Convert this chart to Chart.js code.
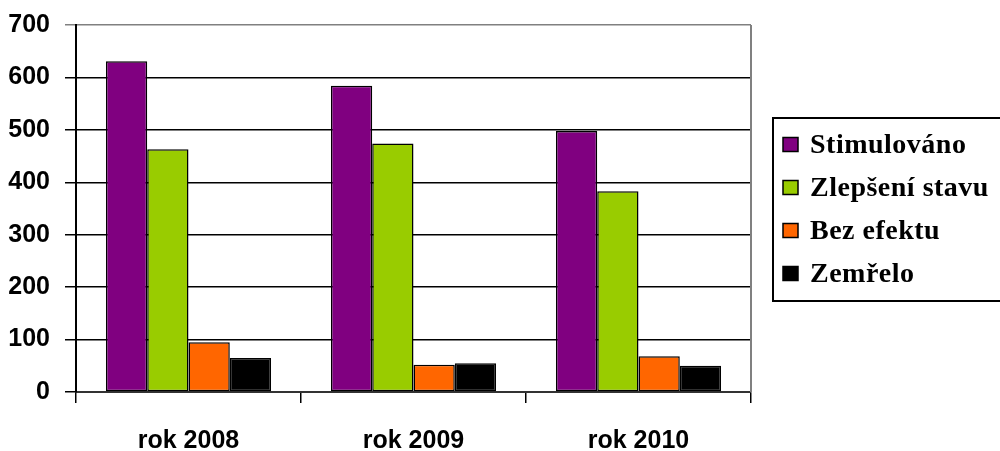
<!DOCTYPE html>
<html>
<head>
<meta charset="utf-8">
<script src="https://cdn.jsdelivr.net/npm/chart.js@4/dist/chart.umd.min.js"></script>
<style>
  html, body { margin: 0; padding: 0; background: #fff; }
  #wrap { width: 1000px; height: 451px; position: relative; }
</style>
</head>
<body>
<div id="wrap"><canvas id="chart"></canvas></div>
<script>
// data
const categories = ['rok 2008', 'rok 2009', 'rok 2010'];
const seriesNames = ['Stimulováno', 'Zlepšení stavu', 'Bez efektu', 'Zemřelo'];
const stimulovano = [631, 584, 498];
const zlepseniStavu = [463, 474, 383];
const bezEfektu = [95, 52, 68];
const zemrelo = [65, 55, 50];
const yTicks = [0, 100, 200, 300, 400, 500, 600, 700];

const colors = ['#800080', '#99cc00', '#ff6600', '#000000'];
const axisFont = "'Liberation Sans', Arial, sans-serif";

// legend box drawn by hand so it sits where the original one does
const boxLegend = {
  id: 'boxLegend',
  afterDraw(chart) {
    const ctx = chart.ctx;
    ctx.save();
    ctx.strokeStyle = '#000';
    ctx.lineWidth = 2;
    ctx.strokeRect(773, 118, 260, 183);
    ctx.font = "bold 28px 'Liberation Serif', 'Times New Roman', serif";
    ctx.textBaseline = 'middle';
    if ('letterSpacing' in ctx) ctx.letterSpacing = '0.5px';
    chart.data.datasets.forEach((ds, i) => {
      const cy = 144.5 + i * 43;
      ctx.fillStyle = ds.backgroundColor;
      ctx.fillRect(783, cy - 7, 15, 14);
      ctx.lineWidth = 1.5;
      ctx.strokeStyle = '#000';
      ctx.strokeRect(783, cy - 7, 15, 14);
      ctx.fillStyle = '#000';
      ctx.fillText(ds.label, 810, cy + 1);
    });
    ctx.restore();
  }
};

// grey frame on the right side of the plot
const plotFrame = {
  id: 'plotFrame',
  beforeDatasetsDraw(chart) {
    const { ctx, chartArea: a } = chart;
    ctx.save();
    ctx.strokeStyle = '#808080';
    ctx.lineWidth = 2;
    ctx.beginPath();
    ctx.moveTo(a.right, a.top);
    ctx.lineTo(a.right, a.bottom);
    ctx.stroke();
    ctx.restore();
  }
};

const seriesValues = [stimulovano, zlepseniStavu, bezEfektu, zemrelo];

new Chart(document.getElementById('chart'), {
  type: 'bar',
  data: {
    labels: categories,
    datasets: seriesValues.map((vals, i) => ({
      label: seriesNames[i],
      data: vals,
      backgroundColor: colors[i],
      borderColor: '#000',
      borderWidth: 1.5,
      borderSkipped: false,
      categoryPercentage: 0.734,
      barPercentage: 1.0,
    })),
  },
  options: {
    responsive: true,
    maintainAspectRatio: false,
    animation: false,
    layout: { padding: { top: 25, right: 249, left: 0, bottom: 0 } },
    plugins: {
      legend: { display: false },
      tooltip: { enabled: false },
    },
    scales: {
      x: {
        afterFit: scale => { scale.height = 59; },
        grid: {
          drawOnChartArea: false,
          drawTicks: true,
          tickLength: 11,
          color: '#000',
          lineWidth: 1.5,
        },
        border: { color: '#333', width: 2 },
        ticks: {
          color: '#000',
          padding: 26,
          font: { family: axisFont, size: 25, weight: 'bold', lineHeight: 1 },
        },
      },
      y: {
        min: 0,
        max: 700,
        afterFit: scale => {
          scale.width = 76;
          scale.paddingTop = 0;
        },
        afterBuildTicks: scale => { scale.ticks = yTicks.map(v => ({ value: v })); },
        grid: {
          color: c => (c.tick && c.tick.value === 700 ? '#808080' : '#000'),
          lineWidth: 1.5,
          tickLength: 11,
        },
        border: { color: '#000', width: 2 },
        ticks: {
          color: '#000',
          padding: 15,
          font: { family: axisFont, size: 25, weight: 'bold', lineHeight: 1 },
        },
      },
    },
  },
  plugins: [plotFrame, boxLegend],
});
</script>
</body>
</html>
